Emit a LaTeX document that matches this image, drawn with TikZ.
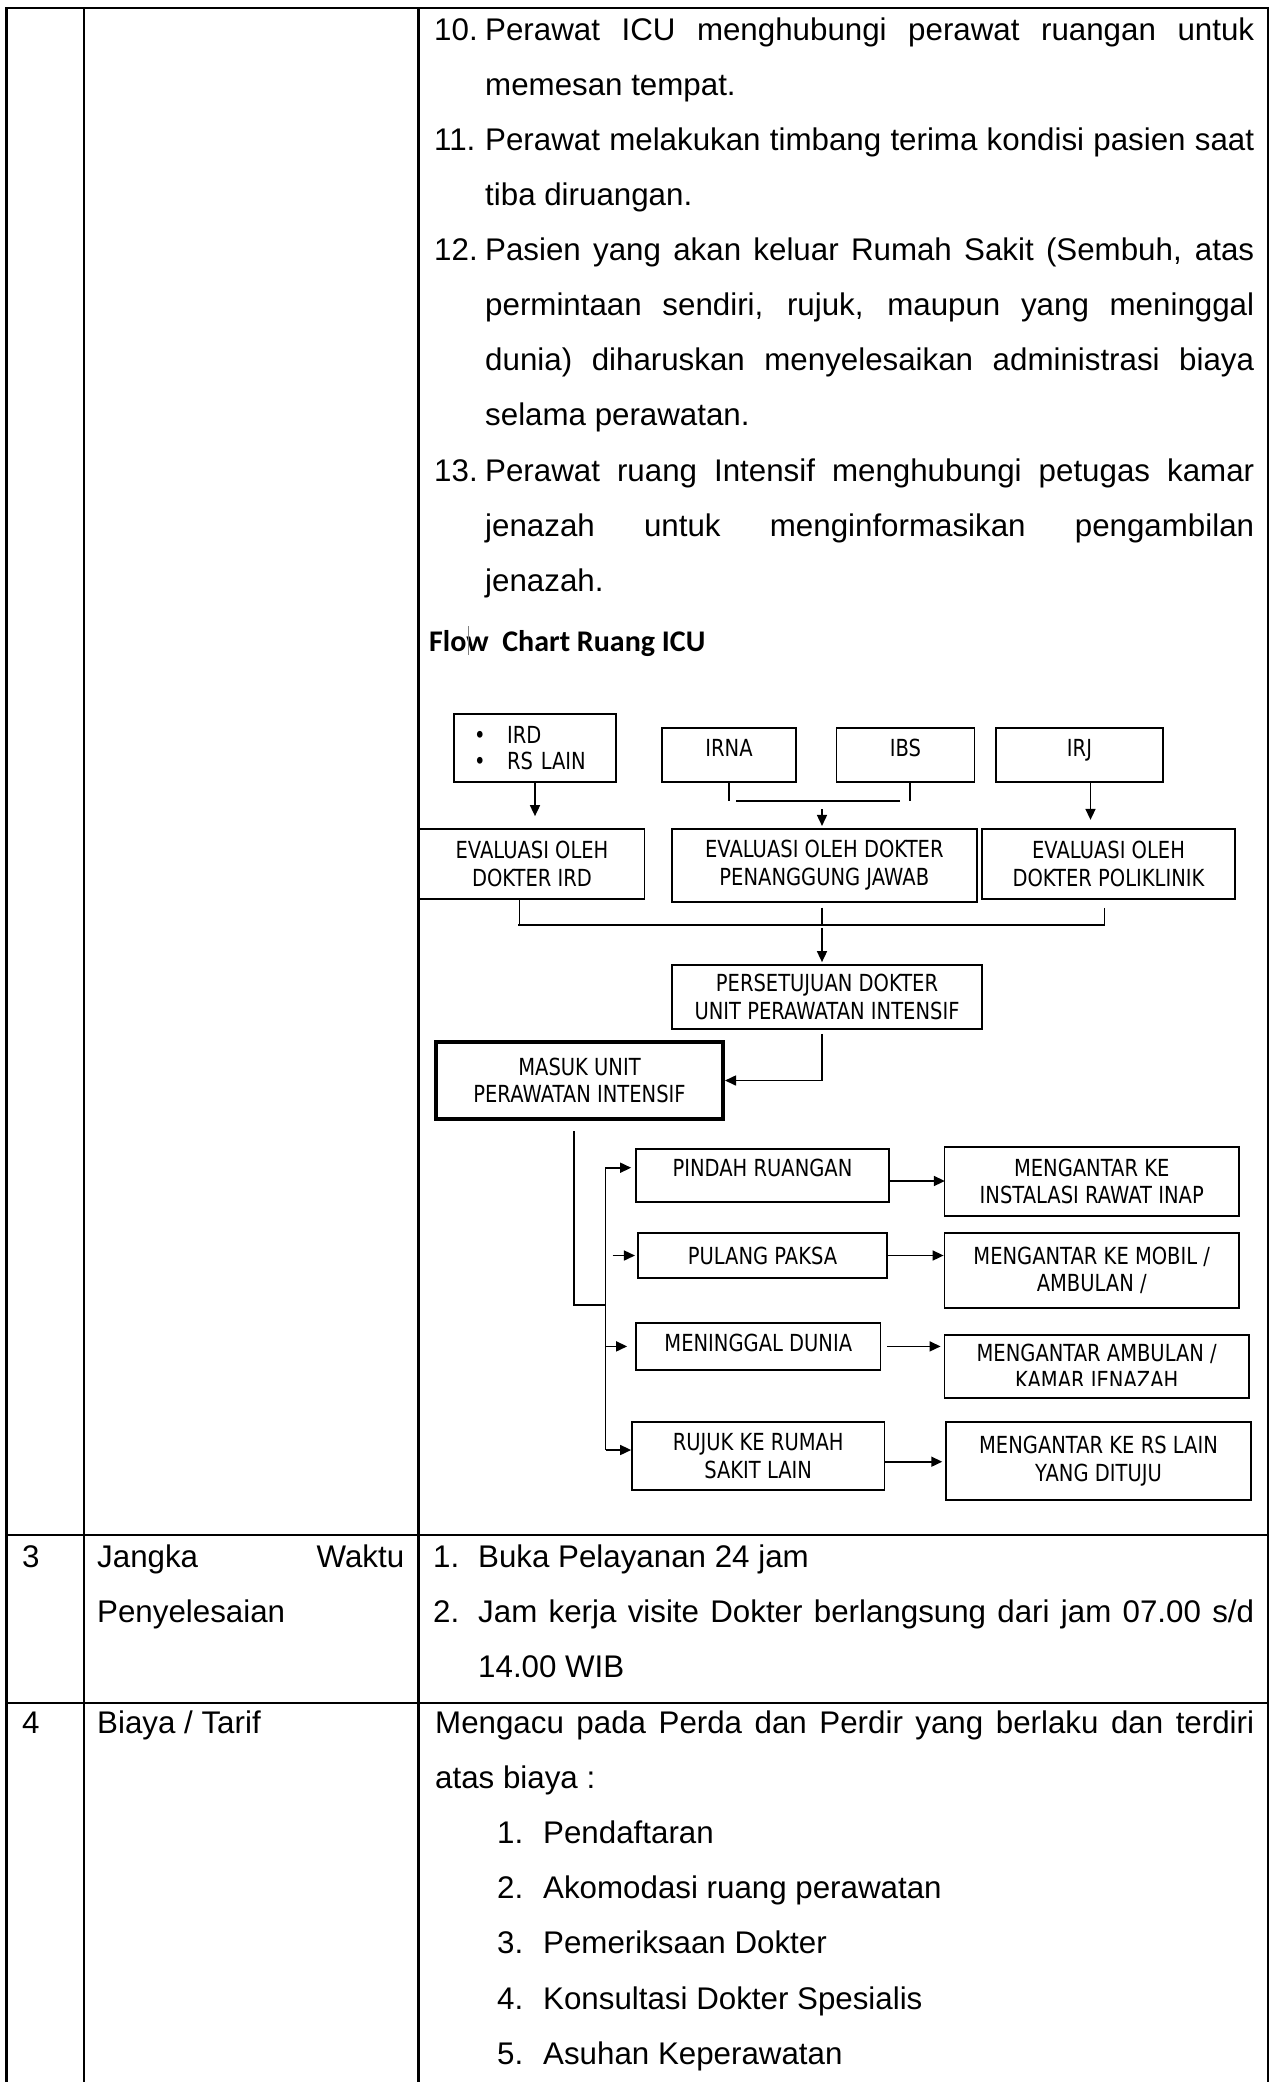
\documentclass[tikz,border=0pt]{standalone}
\usepackage{fontspec}
\setmainfont{Liberation Sans}
\newfontfamily\flowfont[FakeStretch=0.83]{DejaVu Sans}
\newfontfamily\titlefont{Carlito}
\usetikzlibrary{arrows.meta,positioning}
\newcommand{\jline}[2]{\makebox[#1][s]{#2}}

\begin{document}
\begin{tikzpicture}[x=1pt,y=-1pt,
  font=\fontsize{31.3}{38}\selectfont,
  ln/.style={anchor=base west,inner sep=0pt},
  grid/.style={line width=2.2pt},
  sz/.style 2 args={minimum width=#1pt,minimum height=#2pt},
  fbox/.style={draw,line width=1.7pt,inner sep=0pt,align=center,
    font=\flowfont\fontsize{23.5}{27.7}\selectfont},
  lift/.style={text height=17pt,text depth=#1},
  wire/.style={line width=1.6pt},
  arr/.style={line width=1.6pt,-{Triangle[length=11pt,width=10pt]}}]
  \useasboundingbox (0,0) rectangle (1271,2082);

  \draw[grid] (6.5,2082) -- (6.5,8) -- (1268,8) -- (1268,2082);
  \draw[grid] (84,8) -- (84,2082);
  \draw[grid] (418.5,8) -- (418.5,2082);
  \draw[grid] (6.5,1535) -- (1268,1535);
  \draw[grid] (6.5,1703) -- (1268,1703);

  \node[ln] (n10) at (434,40.2) {10.};
  \node[ln] (l1) at (485,40.2) {\jline{769pt}{Perawat ICU menghubungi perawat ruangan untuk}};
  \node[ln] (l2) at (485,95.3) {memesan tempat.};
  \node[ln] (n11) at (434,150.4) {11.};
  \node[ln] (l3) at (485,150.4) {\jline{769pt}{Perawat melakukan timbang terima kondisi pasien saat}};
  \node[ln] (l4) at (485,205.5) {tiba diruangan.};
  \node[ln] (n12) at (434,260.6) {12.};
  \node[ln] (l5) at (485,260.6) {\jline{769pt}{Pasien yang akan keluar Rumah Sakit (Sembuh, atas}};
  \node[ln] (l6) at (485,315.7) {\jline{769pt}{permintaan sendiri, rujuk, maupun yang meninggal}};
  \node[ln] (l7) at (485,370.8) {\jline{769pt}{dunia) diharuskan menyelesaikan administrasi biaya}};
  \node[ln] (l8) at (485,425.9) {selama perawatan.};
  \node[ln] (n13) at (434,481) {13.};
  \node[ln] (l9) at (485,481) {\jline{769pt}{Perawat ruang Intensif menghubungi petugas kamar}};
  \node[ln] (l10) at (485,536.1) {\jline{769pt}{jenazah untuk menginformasikan pengambilan}};
  \node[ln] (l11) at (485,591.2) {jenazah.};

  \node[ln,font=\titlefont\bfseries\fontsize{30}{36}\selectfont] (ttl) at (429,651) {Flow\ \ Chart Ruang ICU};
  \draw[gray,line width=0.8pt] (468,626) -- (468,655);

  \node[fbox,sz={162}{68},text width=122pt,inner xsep=20pt,align=left] (ird) at (535,748)
    {\makebox[33pt][l]{\textbullet}IRD\\[-1.7pt]\makebox[33pt][l]{\textbullet}RS LAIN};
  \node[fbox,sz={134}{54},lift=14pt] (irna) at (729,755) {IRNA};
  \node[fbox,sz={138}{54},lift=14pt] (ibs) at (905.5,755) {IBS};
  \node[fbox,sz={167}{54},lift=14pt] (irj) at (1079.5,755) {IRJ};
  \node[fbox,sz={225}{70}] (evird) at (532,864) {EVALUASI OLEH\\DOKTER IRD};
  \node[fbox,sz={305}{73}] (evdpjp) at (824.3,865.3) {EVALUASI OLEH DOKTER\\PENANGGUNG JAWAB};
  \node[fbox,sz={253}{70}] (evpoli) at (1108.5,864) {EVALUASI OLEH\\DOKTER POLIKLINIK};
  \node[fbox,sz={310}{64}] (setuju) at (827,997) {PERSETUJUAN DOKTER\\UNIT PERAWATAN INTENSIF};
  \node[fbox,sz={287}{77.6},line width=4pt] (masuk) at (579.5,1080.5) {MASUK UNIT\\PERAWATAN INTENSIF};
  \node[fbox,sz={253}{52.4},lift=15pt] (pindah) at (762.5,1175.5) {PINDAH RUANGAN};
  \node[fbox,sz={249.4}{44.4},lift=0pt] (pulang) at (762.5,1255.5) {PULANG PAKSA};
  \node[fbox,sz={244.6}{47.3},lift=7.4pt] (mati) at (758.3,1346.4) {MENINGGAL DUNIA};
  \node[fbox,sz={252.4}{68.3}] (rujuk) at (758.2,1455.9) {RUJUK KE RUMAH\\SAKIT LAIN};
  \node[fbox,sz={294.5}{68.4}] (inap) at (1091.7,1181.5) {MENGANTAR KE\\INSTALASI RAWAT INAP};
  \node[fbox,sz={294.5}{74.4}] (mobil) at (1091.7,1270.5) {MENGANTAR KE MOBIL /\\AMBULAN /};
  \node[fbox,sz={304.5}{62.7}] (jnzh) at (1096.7,1366.4) {};
  \begin{scope}
    \clip (944,1335) rectangle (1249,1385.5);
    \node[fbox,draw=none] (jnzht) at (1096.7,1368.7) {MENGANTAR AMBULAN /\\KAMAR JENAZAH};
  \end{scope}
  \node[fbox,sz={305}{78.3}] (rslain) at (1098.5,1460.9) {MENGANTAR KE RS LAIN\\YANG DITUJU};

  \draw[arr,shorten >=12pt] (ird.south) -- (ird.south |- evird.north);
  \draw[wire] (irna.south) -- ++(0,18);
  \draw[wire] ([xshift=4.5pt]ibs.south) -- ++(0,18);
  \coordinate (m1) at (822,801);
  \draw[wire] ([xshift=-86pt]m1) -- ([xshift=78pt]m1);
  \draw[arr,shorten <=8pt,shorten >=2pt] (m1) -- (m1 |- evdpjp.north);
  \draw[arr] ([xshift=11pt]irj.south) -- ++(0,37);

  \coordinate (m2) at (822,925);
  \draw[wire] ([xshift=-12.6pt]evird.south) -- ++(0,25);
  \draw[wire] (m2 |- evdpjp.south) ++(0,5) -- (m2);
  \draw[wire] ([xshift=-4.1pt]evpoli.south) ++(0,8) -- ++(0,18);
  \draw[wire] ([xshift=-304pt]m2) -- ([xshift=282pt]m2);
  \draw[arr,shorten <=3pt,shorten >=2pt] (m2) -- (m2 |- setuju.north);
  \draw[arr] ([xshift=-5pt,yshift=-4pt]setuju.south) |- (masuk.east);

  \coordinate (t0) at (605.6,1305);
  \coordinate (tt) at (605.6,1167.7);
  \coordinate (tb) at (605.6,1450);
  \draw[wire] ([xshift=-5.5pt,yshift=-10pt]masuk.south) |- (t0);
  \draw[arr,shorten >=4pt] (tb) -- (tt) -- (tt -| pindah.west);
  \draw[arr,shorten <=7pt,shorten >=2pt] (t0 |- pulang.west) -- (pulang.west);
  \draw[arr,shorten >=8pt] (t0 |- mati.west) -- (mati.west);
  \draw[arr] (tb) -- (tb -| rujuk.west);

  \draw[arr] ([yshift=-5.5pt]pindah.east) -- ++(55,0);
  \draw[arr] (pulang.east) -- (pulang.east -| mobil.west);
  \draw[arr,shorten <=6pt,shorten >=3pt] (mati.east) -- (mati.east -| jnzh.west);
  \draw[arr] ([yshift=-5.8pt]rujuk.east) -- ++(57,0);

  \node[ln] (r3) at (22,1567.5) {3};
  \node[ln] (r3a) at (97,1567.5) {\jline{307pt}{Jangka Waktu}};
  \node[ln] (r3b) at (97,1622.3) {Penyelesaian};
  \node[ln] (r3n1) at (433,1567.5) {1.};
  \node[ln] (r3t1) at (478,1567.5) {Buka Pelayanan 24 jam};
  \node[ln] (r3n2) at (433,1622.3) {2.};
  \node[ln] (r3t2) at (478,1622.3) {\jline{776pt}{Jam kerja visite Dokter berlangsung dari jam 07.00 s/d}};
  \node[ln] (r3t3) at (478,1677) {14.00 WIB};

  \node[ln] (r4) at (22,1733) {4};
  \node[ln] (r4a) at (97,1733) {Biaya / Tarif};
  \node[ln] (r4t1) at (435,1733) {\jline{819pt}{Mengacu pada Perda dan Perdir yang berlaku dan terdiri}};
  \node[ln] (r4t2) at (435,1788.2) {atas biaya :};
  \node[ln] (b1) at (497,1843.4) {1.};
  \node[ln] (c1) at (543,1843.4) {Pendaftaran};
  \node[ln] (b2) at (497,1898.6) {2.};
  \node[ln] (c2) at (543,1898.6) {Akomodasi ruang perawatan};
  \node[ln] (b3) at (497,1953.8) {3.};
  \node[ln] (c3) at (543,1953.8) {Pemeriksaan Dokter};
  \node[ln] (b4) at (497,2009) {4.};
  \node[ln] (c4) at (543,2009) {Konsultasi Dokter Spesialis};
  \node[ln] (b5) at (497,2064.2) {5.};
  \node[ln] (c5) at (543,2064.2) {Asuhan Keperawatan};
\end{tikzpicture}
\end{document}
